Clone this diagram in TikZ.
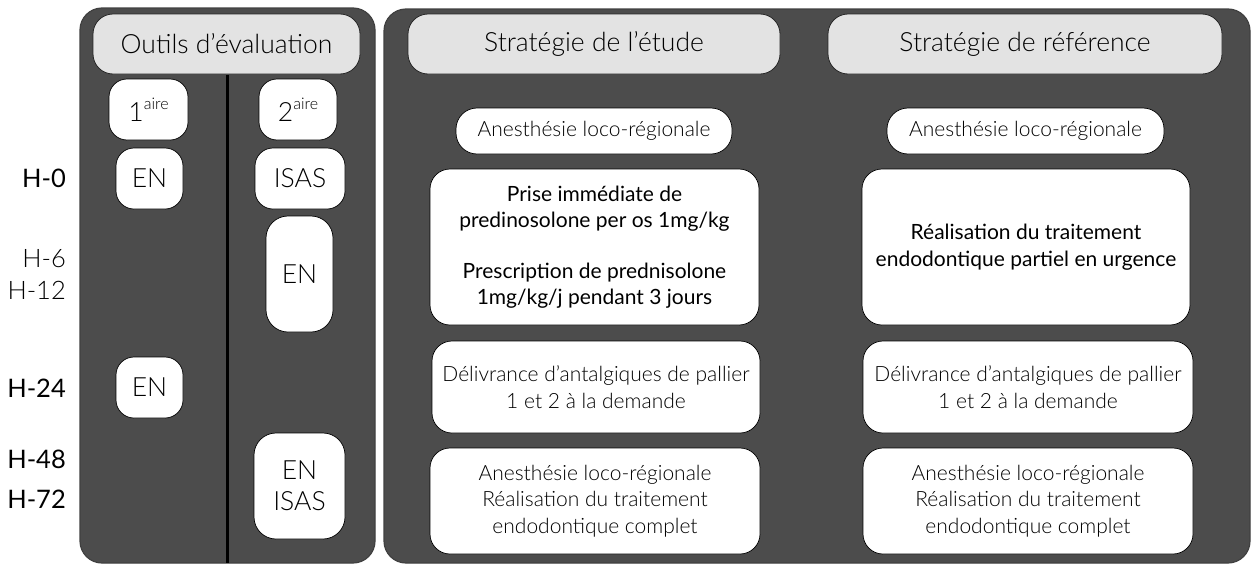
\documentclass[tikz,border=0pt]{standalone}
\usepackage{fontspec}
\setmainfont{Lato}
\newfontfamily\lightfont{Lato}[UprightFont={* Light},BoldFont={Lato}]
\begin{document}
\begin{tikzpicture}[x=1pt,y=-1pt,
  panel/.style={draw=black!75,line width=1.2pt,fill=black!70,rounded corners=22pt,inner sep=0pt},
  header/.style={draw=black!85,line width=0.8pt,fill=black!11,rounded corners=20pt,inner sep=0pt,font=\lightfont\fontsize{26.5}{30}\selectfont},
  wbox/.style={draw=black,line width=0.7pt,fill=white,rounded corners=18pt,inner sep=0pt,align=center,font=\lightfont\fontsize{26.5}{31}\selectfont},
  tbox/.style={draw=black,line width=0.7pt,fill=white,rounded corners=20pt,inner sep=0pt,align=center,font=\lightfont\fontsize{21}{26.5}\selectfont},
  hlab/.style={anchor=east,inner sep=0pt,font=\fontsize{25.5}{28}\selectfont},
  hlight/.style={anchor=east,inner sep=0pt,align=right,font=\lightfont\fontsize{25.5}{32}\selectfont}]
\useasboundingbox (0,0) rectangle (1252,565);
% panels
\node[panel,minimum width=295pt,minimum height=555pt] (pl) at (227.5,285.5) {};
\node[panel,minimum width=866pt,minimum height=554pt] (pr) at (817,286) {};
% headers
\node[header,minimum width=267pt,minimum height=60pt] (hout) at (226.5,44) {Outils d’évaluation};
\node[header,minimum width=372pt,minimum height=60pt] (hetu) at (594,44) {Stratégie de l’étude};
\node[header,minimum width=394pt,minimum height=60pt] (href) at (1025,44) {Stratégie de référence};
% separator
\coordinate (sepb) at (227,563);
\draw[line width=3pt,black] (hout.south) ++(0.5,1) -- (sepb);
% tool boxes
\node[wbox,minimum width=79pt,minimum height=61pt] (p1) at (148.5,109.5) {1\raisebox{12pt}{\fontsize{16}{16}\selectfont aire}};
\node[wbox,minimum width=67pt,minimum height=61pt] (en0) at (149.5,178.5) {EN};
\node[wbox,minimum width=78pt,minimum height=61pt] (p2) at (298,109.5) {2\raisebox{12pt}{\fontsize{16}{16}\selectfont aire}};
\node[wbox,minimum width=90pt,minimum height=61pt] (isas0) at (300,178.5) {ISAS};
\node[wbox,minimum width=67pt,minimum height=116pt,rounded corners=22pt] (en12) at (299.5,274) {EN};
\node[wbox,minimum width=67pt,minimum height=61pt] (en24) at (149.5,387.5) {EN};
\node[wbox,minimum width=91pt,minimum height=106pt,rounded corners=22pt] (en72) at (299.5,486) {EN\\ISAS};
% time labels
\node[hlab] (h0) at (66,178) {H-0};
\node[hlight] (h6) at (66,274) {H-6\\H-12};
\node[hlab] (h24) at (66,388) {H-24};
\node[hlab] (h48) at (66,459) {H-48};
\node[hlab] (h72) at (66,499) {H-72};
% strategy boxes
\node[tbox,minimum width=276pt,minimum height=46pt,rounded corners=21pt] (a1) at (594,131) {Anesthésie loco-régionale};
\node[tbox,minimum width=277pt,minimum height=46pt,rounded corners=21pt] (a2) at (1025.5,131) {Anesthésie loco-régionale};
\node[tbox,minimum width=329pt,minimum height=156pt,font=\fontsize{21}{26.5}\selectfont] (pr1) at (594.5,247) {Prise immédiate de\\predinosolone per os 1mg/kg\\[24pt]Prescription de prednisolone\\1mg/kg/j pendant 3 jours};
\node[tbox,minimum width=328pt,minimum height=156pt,font=\fontsize{21}{26.5}\selectfont] (re1) at (1026,247) {Réalisation du traitement\\endodontique partiel en urgence};
\node[tbox,minimum width=328pt,minimum height=92pt] (d1) at (596,387) {Délivrance d’antalgiques de pallier\\1 et 2 à la demande};
\node[tbox,minimum width=330pt,minimum height=92pt] (d2) at (1028,387) {Délivrance d’antalgiques de pallier\\1 et 2 à la demande};
\node[tbox,minimum width=330pt,minimum height=106pt] (c1) at (595,501) {Anesthésie loco-régionale\\Réalisation du traitement\\endodontique complet};
\node[tbox,minimum width=330pt,minimum height=106pt] (c2) at (1028,501) {Anesthésie loco-régionale\\Réalisation du traitement\\endodontique complet};
\end{tikzpicture}
\end{document}
